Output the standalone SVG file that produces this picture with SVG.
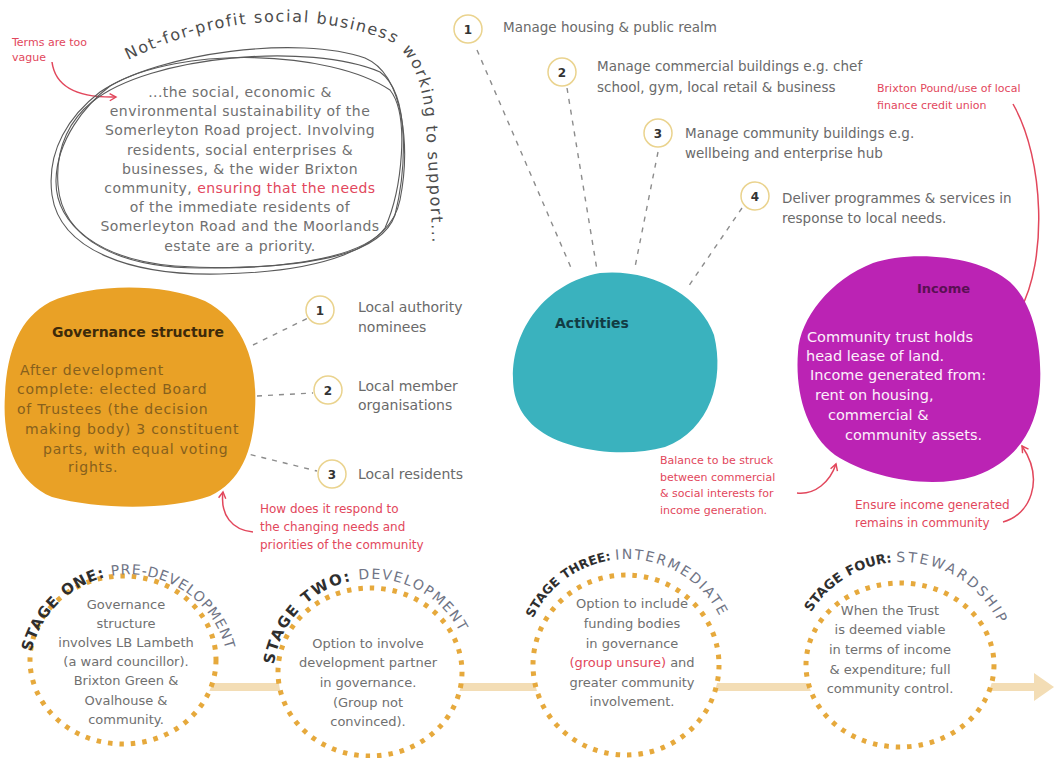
<svg xmlns="http://www.w3.org/2000/svg" width="1055" height="758" viewBox="0 0 1055 758">
<defs>
<style>
text{font-family:"DejaVu Sans","Liberation Sans",sans-serif}
.r{fill:#E2475C}
.body{font-size:14px;letter-spacing:0.45px;fill:#707070;text-anchor:middle}
.item{font-size:13.5px;fill:#6a6a6a}
.note{font-size:11px;fill:#E2475C}
.num{fill:#fff;stroke:#EAD38E;stroke-width:1.5}
.numt{font-size:12px;font-weight:bold;fill:#333;text-anchor:middle}
.dash{fill:none;stroke:#8c8c8c;stroke-width:1.4;stroke-dasharray:5 6}
.arr{fill:none;stroke:#E2475C;stroke-width:1.5;marker-end:url(#ah)}
.scr{fill:none;stroke:#5a5a5a;stroke-width:1.1}
.ring{fill:#fff;stroke:#E6A93C;stroke-width:5;stroke-dasharray:4.5 7}
.st{font-size:13px;fill:#707070;text-anchor:middle}
.lb{font-size:15px;font-weight:bold;fill:#2e2e2e}
.lr{font-size:14px;fill:#6f7485}
.gov{font-size:14px;letter-spacing:0.8px;fill:#86601d}
.inc{font-size:14.5px;fill:#fdf0fb}
.arc{font-size:16px;fill:#4d4d4d;letter-spacing:1.6px}
</style>
<marker id="ah" viewBox="0 0 10 10" refX="8" refY="5" markerWidth="9" markerHeight="9" orient="auto" markerUnits="userSpaceOnUse">
<path d="M1,1 L8,5 L1,9" fill="none" stroke="#E2475C" stroke-width="1.6"/>
</marker>
<path id="arcTop" d="M 128 60 Q 262 -5 388 40 Q 422 58 426 125 Q 430 185 433 258"/>
<path id="arc1" d="M 30.5 656.6 A 100 100 0 1 1 225.6 699.9"/>
<path id="arc2" d="M 273.4 669.4 A 99 99 0 1 1 469.5 695.2"/>
<path id="arc3" d="M 529.3 627.4 A 104 104 0 0 1 729.4 644.9"/>
<path id="arc4" d="M 805 623.8 A 107 107 0 0 1 1009 669"/>
</defs>
<rect width="1055" height="758" fill="#fff"/>

<!-- progress band -->
<g id="band">
<rect x="124" y="683" width="912" height="8" fill="#F3DDB5"/>
<polygon points="1034,673 1054,687 1034,701" fill="#F3DDB5"/>
</g>

<!-- connectors -->
<g id="connectors">
<path class="dash" d="M 477 50 L 572 270"/>
<path class="dash" d="M 567 88 L 597 270"/>
<path class="dash" d="M 658 152 L 635 267"/>
<path class="dash" d="M 742 208 L 688 287"/>
<path class="dash" d="M 253 345 L 308 318"/>
<path class="dash" d="M 257 396 L 313 393"/>
<path class="dash" d="M 240 452 L 317 471"/>
<path class="arr" d="M 52 62 C 55 85 75 98 116 97"/>
<path class="arr" d="M 1013 104 C 1045 160 1047 262 1020 310"/>
<path class="arr" d="M 253 532 C 232 530 220 515 223 492"/>
<path class="arr" d="M 797 493 C 815 495 830 482 836 464"/>
<path class="arr" d="M 1003 522 C 1030 515 1045 480 1022 446"/>
</g>

<!-- mission scribble -->
<g id="mission">
<path class="scr" d="M 100 92 C 160 52 300 35 365 58 C 405 75 410 150 400 200 C 390 250 320 272 220 274 C 130 276 60 250 52 195 C 46 150 70 115 100 92 Z"/>
<path class="scr" d="M 92 102 C 150 55 310 42 380 72 C 412 95 405 175 395 215 C 380 258 300 268 200 268 C 120 268 62 240 58 185 C 55 145 72 118 92 102 Z"/>
<path class="scr" d="M 110 86 C 180 45 330 50 390 90 C 410 115 402 190 385 228 C 360 262 260 272 175 266 C 100 260 55 225 56 180 C 57 140 85 105 110 86 Z"/>
<text class="arc"><textPath href="#arcTop">Not-for-profit social business</textPath></text>
<text class="arc"><textPath href="#arcTop" startOffset="284.7">working to support...</textPath></text>
<text class="body" x="240" y="97">...the social, economic &amp;</text>
<text class="body" x="240" y="116">environmental sustainability of the</text>
<text class="body" x="240" y="135">Somerleyton Road project. Involving</text>
<text class="body" x="240" y="155">residents, social enterprises &amp;</text>
<text class="body" x="240" y="174">businesses, &amp; the wider Brixton</text>
<text class="body" x="240" y="193">community, <tspan class="r">ensuring that the needs</tspan></text>
<text class="body r" x="240" y="212">of the immediate residents of</text>
<text class="body r" x="240" y="231">Somerleyton Road and the Moorlands</text>
<text class="body r" x="240" y="251">estate are a priority.</text>
</g>

<g id="note-terms">
<text class="note" x="12" y="46">Terms are too</text>
<text class="note" x="12" y="61">vague</text>
</g>

<!-- activities items -->
<g id="item1">
<circle class="num" cx="468" cy="29" r="14"/>
<text class="numt" x="468" y="33.5">1</text>
<text class="item" x="503" y="32">Manage housing &amp; public realm</text>
</g>
<g id="item2">
<circle class="num" cx="562" cy="72" r="14"/>
<text class="numt" x="562" y="76.5">2</text>
<text class="item" x="597" y="71">Manage commercial buildings e.g. chef</text>
<text class="item" x="597" y="92">school, gym, local retail &amp; business</text>
</g>
<g id="item3">
<circle class="num" cx="658" cy="133" r="14"/>
<text class="numt" x="658" y="137.5">3</text>
<text class="item" x="685" y="138">Manage community buildings e.g.</text>
<text class="item" x="685" y="158">wellbeing and enterprise hub</text>
</g>
<g id="item4">
<circle class="num" cx="755" cy="196" r="14"/>
<text class="numt" x="755" y="200.5">4</text>
<text class="item" x="782" y="203">Deliver programmes &amp; services in</text>
<text class="item" x="782" y="223">response to local needs.</text>
</g>

<g id="note-brixton">
<text class="note" x="877" y="92">Brixton Pound/use of local</text>
<text class="note" x="877" y="109">finance credit union</text>
</g>

<!-- governance -->
<g id="governance">
<path fill="#E9A126" d="M 50 302 C 90 284 160 282 205 301 C 242 320 258 360 255 410 C 253 452 240 482 210 496 C 170 510 100 510 52 497 C 15 482 2 440 5 395 C 7 350 20 318 50 302 Z"/>
<text x="52" y="337" font-size="14" font-weight="bold" fill="#3d2a0a">Governance structure</text>
<text class="gov" x="20" y="375">After development</text>
<text class="gov" x="17" y="394">complete: elected Board</text>
<text class="gov" x="17" y="414">of Trustees (the decision</text>
<text class="gov" x="25" y="434">making body) 3 constituent</text>
<text class="gov" x="43" y="454">parts, with equal voting</text>
<text class="gov" x="68" y="472">rights.</text>
</g>
<g id="gov1">
<circle class="num" cx="320" cy="310" r="14"/>
<text class="numt" x="320" y="314.5">1</text>
<text class="item" x="358" y="312" style="font-size:14px">Local authority</text>
<text class="item" x="358" y="332" style="font-size:14px">nominees</text>
</g>
<g id="gov2">
<circle class="num" cx="328" cy="390" r="14"/>
<text class="numt" x="328" y="394.5">2</text>
<text class="item" x="358" y="391" style="font-size:14px">Local member</text>
<text class="item" x="358" y="410" style="font-size:14px">organisations</text>
</g>
<g id="gov3">
<circle class="num" cx="332" cy="474" r="14"/>
<text class="numt" x="332" y="478.5">3</text>
<text class="item" x="358" y="479" style="font-size:14px">Local residents</text>
</g>
<g id="note-respond">
<text class="note" x="260" y="513" style="font-size:12px">How does it respond to</text>
<text class="note" x="260" y="531" style="font-size:12px">the changing needs and</text>
<text class="note" x="260" y="549" style="font-size:12px">priorities of the community</text>
</g>

<!-- activities -->
<g id="activities">
<path fill="#3AB2BE" d="M 513 378 C 512 330 545 283 600 273 C 650 268 700 295 714 335 C 725 380 710 430 665 447 C 625 458 565 452 535 427 C 518 412 513 395 513 378 Z"/>
<text x="555" y="328" font-size="14" font-weight="bold" fill="#123c44">Activities</text>
</g>

<!-- income -->
<g id="income">
<path fill="#BB23B4" d="M 873 263 C 910 250 980 255 1010 282 C 1035 305 1042 350 1040 385 C 1038 430 1015 462 975 476 C 930 490 870 478 835 455 C 805 432 795 390 798 352 C 800 318 830 280 873 263 Z"/>
<text x="917" y="293" font-size="13" font-weight="bold" fill="#5a1053">Income</text>
<text class="inc" x="807" y="342">Community trust holds</text>
<text class="inc" x="806" y="361">head lease of land.</text>
<text class="inc" x="810" y="380">Income generated from:</text>
<text class="inc" x="815" y="400">rent on housing,</text>
<text class="inc" x="828" y="420">commercial &amp;</text>
<text class="inc" x="845" y="440">community  assets.</text>
</g>
<g id="note-balance">
<text class="note" x="660" y="464">Balance to be struck</text>
<text class="note" x="660" y="481">between commercial</text>
<text class="note" x="660" y="497">&amp; social interests for</text>
<text class="note" x="660" y="514">income generation.</text>
</g>
<g id="note-ensure">
<text class="note" x="855" y="509" style="font-size:12px">Ensure income generated</text>
<text class="note" x="855" y="527" style="font-size:12px">remains in community</text>
</g>

<!-- stages -->
<g id="stage1">
<ellipse class="ring" cx="123" cy="660" rx="93" ry="84"/>
<text class="lb" letter-spacing="0.85"><textPath href="#arc1" startOffset="5">STAGE</textPath></text>
<text class="lb" letter-spacing="0.85"><textPath href="#arc1" startOffset="70.5">ONE:</textPath></text>
<text class="lr" letter-spacing="0.85"><textPath href="#arc1" startOffset="121.5">PRE-DEVELOPMENT</textPath></text>
<text class="st" x="126" y="609">Governance</text>
<text class="st" x="126" y="628">structure</text>
<text class="st" x="126" y="647">involves LB Lambeth</text>
<text class="st r" x="126" y="666">(a ward councillor).</text>
<text class="st" x="126" y="685">Brixton Green &amp;</text>
<text class="st" x="126" y="705">Ovalhouse &amp;</text>
<text class="st" x="126" y="724">community.</text>
</g>
<g id="stage2">
<ellipse class="ring" cx="370" cy="672" rx="92" ry="84"/>
<text class="lb" letter-spacing="1.6"><textPath href="#arc2" startOffset="5">STAGE</textPath></text>
<text class="lb" letter-spacing="1.6"><textPath href="#arc2" startOffset="75">TWO:</textPath></text>
<text class="lr" letter-spacing="1.6"><textPath href="#arc2" startOffset="133.7">DEVELOPMENT</textPath></text>
<text class="st" x="368" y="648">Option to involve</text>
<text class="st" x="368" y="667">development partner</text>
<text class="st" x="368" y="687">in governance.</text>
<text class="st r" x="368" y="707">(Group not</text>
<text class="st r" x="368" y="726">convinced).</text>
</g>
<g id="stage3">
<ellipse class="ring" cx="626" cy="665" rx="93" ry="90"/>
<text class="lb" style="font-size:12.5px"><textPath href="#arc3" startOffset="10">STAGE</textPath></text>
<text class="lb" style="font-size:12.5px"><textPath href="#arc3" startOffset="60.3">THREE:</textPath></text>
<text class="lr" style="font-size:14px;letter-spacing:2px"><textPath href="#arc3" startOffset="115.3">INTERMEDIATE</textPath></text>
<text class="st" x="632" y="608">Option to include</text>
<text class="st" x="632" y="628">funding bodies</text>
<text class="st" x="632" y="648">in governance</text>
<text class="st" x="632" y="667"><tspan class="r">(group unsure)</tspan> and</text>
<text class="st" x="632" y="687">greater community</text>
<text class="st" x="632" y="706">involvement.</text>
</g>
<g id="stage4">
<ellipse class="ring" cx="900" cy="665" rx="94" ry="82"/>
<text class="lb" style="font-size:13px"><textPath href="#arc4" startOffset="13">STAGE</textPath></text>
<text class="lb" style="font-size:13px"><textPath href="#arc4" startOffset="65.4">FOUR:</textPath></text>
<text class="lr" style="font-size:14px;letter-spacing:2.5px"><textPath href="#arc4" startOffset="115.6">STEWARDSHIP</textPath></text>
<text class="st" x="890" y="615">When the Trust</text>
<text class="st" x="890" y="634">is deemed viable</text>
<text class="st" x="890" y="654">in terms of income</text>
<text class="st" x="890" y="674">&amp; expenditure; full</text>
<text class="st" x="890" y="693">community control.</text>
</g>
</svg>
